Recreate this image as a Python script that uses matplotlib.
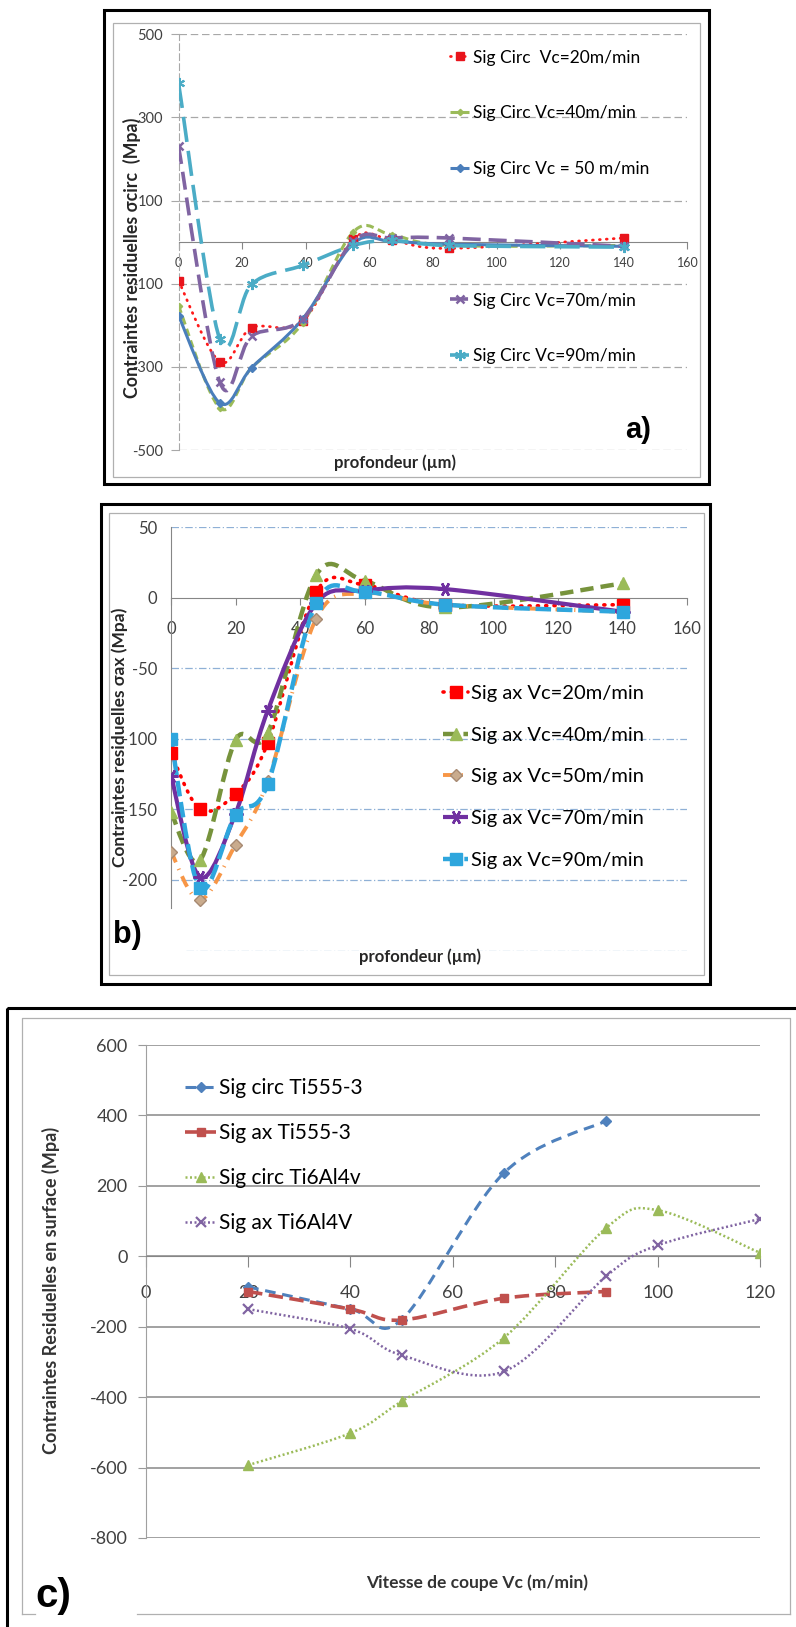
import numpy as np
import matplotlib
matplotlib.use('Agg')
import matplotlib.pyplot as plt
from matplotlib.path import Path
from matplotlib.patches import PathPatch, Rectangle
from matplotlib.lines import Line2D

plt.rcParams['font.family'] = ['Lato', 'DejaVu Sans']
plt.rcParams['axes.unicode_minus'] = False

W, H = 796, 1627
DPI = 100

# a) circumferential residual stress vs depth
depth_a = [0, 13, 23, 39, 55, 67, 85, 140]
circ_vc20 = [-93, -288, -206, -190, 8, 5, -15, 10]
circ_vc40 = [-153, -399, -302, -195, 25, 18, -8, -8]
circ_vc50 = [-177, -387, -302, -185, -3, 2, -5, -10]
circ_vc70 = [231, -337, -226, -185, 3, 10, 10, -10]
circ_vc90 = [383, -234, -101, -56, -8, 4, -8, -12]
labels_a = ['Sig Circ  Vc=20m/min', 'Sig Circ Vc=40m/min', 'Sig Circ Vc = 50 m/min',
            'Sig Circ Vc=70m/min', 'Sig Circ Vc=90m/min']
yticks_a = [500, 300, 100, -100, -300, -500]
xticks_ab = [0, 20, 40, 60, 80, 100, 120, 140, 160]

# b) axial residual stress vs depth
depth_b = [0, 9, 20, 30, 45, 60, 85, 140]
ax_vc20 = [-110, -150, -139, -103, 4, 9, -5, -5]
ax_vc40 = [-152, -186, -101, -96, 16, 12, -7, 10]
ax_vc50 = [-180, -214, -175, -130, -15, 3, -5, -10]
ax_vc70 = [-126, -198, -153, -80, -4, 5, 6, -10]
ax_vc90 = [-100, -206, -154, -132, -4, 4, -5, -10]
labels_b = ['Sig ax Vc=20m/min', 'Sig ax Vc=40m/min', 'Sig ax Vc=50m/min',
            'Sig ax Vc=70m/min', 'Sig ax Vc=90m/min']
yticks_b = [50, 0, -50, -100, -150, -200]
grid_b = [50, -50, -100, -150, -200]

# c) surface residual stress vs cutting speed
vc_ti555 = [20, 40, 50, 70, 90]
circ_ti555 = [-87, -150, -180, 237, 385]
axial_ti555 = [-100, -150, -181, -119, -100]
vc_ti64 = [20, 40, 50, 70, 90, 100, 120]
circ_ti64 = [-593, -502, -412, -231, 81, 131, 10]
axial_ti64 = [-150, -206, -281, -327, -56, 31, 106]
labels_c = ['Sig circ Ti555-3', 'Sig ax Ti555-3', 'Sig circ Ti6Al4v', 'Sig ax Ti6Al4V']
yticks_c = [600, 400, 200, 0, -200, -400, -600, -800]
xticks_c = [0, 20, 40, 60, 80, 100, 120]

NARROW = ['Liberation Sans Narrow', 'Lato', 'DejaVu Sans']


def smooth_path(x, y):
    # excel-like smoothed line: catmull-rom segments as cubic beziers
    pts = np.column_stack([x, y]).astype(float)
    n = len(pts)
    verts = [pts[0]]
    codes = [Path.MOVETO]
    for i in range(n - 1):
        p0 = pts[max(i - 1, 0)]
        p1 = pts[i]
        p2 = pts[i + 1]
        p3 = pts[min(i + 2, n - 1)]
        verts += [p1 + (p2 - p0) / 6, p2 - (p3 - p1) / 6, p2]
        codes += [Path.CURVE4] * 3
    return Path(verts, codes)


def draw_series(ax, x, y, color, lw, ls, marker, ms, mfc=None, mec=None, mew=1.0,
                cap='butt', z=3):
    mfc = mfc or color
    mec = mec or color
    pp = PathPatch(smooth_path(x, y), fill=False, edgecolor=color, lw=lw,
                   linestyle=ls, zorder=z)
    pp.set_capstyle(cap)
    ax.add_patch(pp)
    ax.plot(x, y, linestyle='none', marker=marker, ms=ms, mfc=mfc, mec=mec,
            mew=mew, zorder=z + 0.1)
    return Line2D([], [], color=color, lw=lw, linestyle=ls, marker=marker, ms=ms,
                  mfc=mfc, mec=mec, mew=mew, solid_capstyle=cap, dash_capstyle=cap)


fig = plt.figure(figsize=(W / DPI, H / DPI), dpi=DPI)

# background layer in pixel coordinates for the frames and panel letters
bg = fig.add_axes([0, 0, 1, 1], zorder=0)
bg.set_xlim(0, W)
bg.set_ylim(H, 0)
bg.axis('off')


def px_axes(x0, x1, y0, y1):
    a = fig.add_axes([x0 / W, 1 - y1 / H, (x1 - x0) / W, (y1 - y0) / H], zorder=2)
    a.patch.set_alpha(0)
    return a


def frame(x0, y0, x1, y1, ix0, iy0, ix1, iy1):
    bg.add_patch(Rectangle((x0, y0), x1 - x0, y1 - y0, fill=False, ec='black', lw=2.2))
    bg.add_patch(Rectangle((ix0, iy0), ix1 - ix0, iy1 - iy0, fill=False, ec='#b0b0b0', lw=0.9))


frame(104, 10, 709, 484, 113, 23, 700, 477)
frame(101, 504, 710, 984, 109, 513, 704, 975)
bg.add_patch(Rectangle((7, 1008), 820, 660, fill=False, ec='black', lw=2.2))
bg.plot([22, 22, 790, 790], [1614, 1018, 1018, 1614], color='#b0b0b0', lw=0.9)
bg.plot([22, 35], [1614, 1614], color='#b0b0b0', lw=0.9)
bg.plot([137, 790], [1614, 1614], color='#b0b0b0', lw=0.9)

AXIS_GRAY = '#868686'
TICK_TXT = '#404040'

# ---------------- panel a ----------------
ax1 = px_axes(178.5, 687.4, 34.3, 450)
ax1.set_xlim(0, 160)
ax1.set_ylim(-500, 500)
h_a = [
    draw_series(ax1, depth_a, circ_vc20, '#ff1a1a', 2.0, (0, (0.3, 2.2)), 's', 5.5,
                mfc='#e8141c', mec='#e8141c', cap='round'),
    draw_series(ax1, depth_a, circ_vc40, '#9bbb59', 2.2, (0, (2.5, 1.5)), 'D', 3.2),
    draw_series(ax1, depth_a, circ_vc50, '#4a7ebb', 2.2, '-', 'D', 4.2),
    draw_series(ax1, depth_a, circ_vc70, '#8064a2', 2.6, (0, (5, 2.2)), 'x', 6, mew=1.8),
    draw_series(ax1, depth_a, circ_vc90, '#4bacc6', 2.6, (0, (7, 2.5)), (6, 2, 0), 8, mew=1.5),
]
for s in ['top', 'right']:
    ax1.spines[s].set_visible(False)
ax1.spines['bottom'].set_position(('data', 0))
ax1.spines['bottom'].set_color(AXIS_GRAY)
ax1.spines['left'].set_color('#a8a8a8')
ax1.spines['left'].set_linestyle((0, (6, 3)))
ax1.set_xticks(xticks_ab)
ax1.set_yticks(yticks_a)
ax1.tick_params(axis='x', direction='out', length=5, color=AXIS_GRAY, labelsize=9,
                labelcolor=TICK_TXT, pad=6)
ax1.tick_params(axis='y', direction='out', length=6, color='#a8a8a8', labelsize=10.5,
                labelcolor=TICK_TXT, pad=5)
ax1.grid(axis='y', color='#a8a8a8', lw=0.9, linestyle=(0, (6, 3)))
ax1.set_axisbelow(True)

fs_a = 12.5
leg_kw = dict(frameon=False, borderpad=0, borderaxespad=0, handlelength=1.1,
              handletextpad=0.25, bbox_transform=bg.transData, loc='upper left')
fig.legend(h_a[:3], labels_a[:3], bbox_to_anchor=(450, 49.5), fontsize=fs_a,
           labelspacing=2.28, **leg_kw)
fig.legend(h_a[3:], labels_a[3:], bbox_to_anchor=(450, 292.5), fontsize=fs_a,
           labelspacing=2.28, **leg_kw)

bg.text(132, 258, 'Contraintes residuelles σcirc  (Mpa)', rotation=90, ha='center',
        va='center', fontsize=12.8, fontweight='bold', color='#262626')
bg.text(395, 463, 'profondeur (µm)', ha='center', va='center', fontsize=12,
        fontweight='bold', color='#262626')
bg.text(638, 430, 'a)', ha='center', va='center', fontsize=21, fontweight='bold',
        family=['Liberation Sans', 'DejaVu Sans'])

# ---------------- panel b ----------------
ax2 = px_axes(171, 687, 527, 950.6)
ax2.set_xlim(0, 160)
ax2.set_ylim(-250, 50)
h_b = [
    draw_series(ax2, depth_b, ax_vc20, '#ff0000', 2.6, (0, (0.3, 2.0)), 's', 8,
                cap='round'),
    draw_series(ax2, depth_b, ax_vc40, '#77933c', 3.2, (0, (3, 1.6)), '^', 9,
                mfc='#9bbb59', mec='#9bbb59'),
    draw_series(ax2, depth_b, ax_vc50, '#f79646', 2.8, (0, (3, 1.8, 0.3, 1.8)), 'D', 6,
                mfc='#c9ab8d', mec='#a78a72'),
    draw_series(ax2, depth_b, ax_vc70, '#7030a0', 3.0, '-', (6, 2, 90), 10, mew=1.8),
    draw_series(ax2, depth_b, ax_vc90, '#2ea6dd', 3.2, (0, (3.5, 1.3)), 's', 8),
]
for s in ['top', 'right']:
    ax2.spines[s].set_visible(False)
ax2.spines['bottom'].set_position(('data', 0))
ax2.spines['bottom'].set_color(AXIS_GRAY)
ax2.spines['left'].set_color(AXIS_GRAY)
ax2.spines['left'].set_bounds(-220, 50)
ax2.set_xticks(xticks_ab)
ax2.set_yticks(yticks_b)
ax2.tick_params(axis='x', direction='out', length=5, color=AXIS_GRAY, labelsize=12,
                labelcolor=TICK_TXT, pad=12)
ax2.tick_params(axis='y', length=0, labelsize=12, labelcolor=TICK_TXT, pad=10)
for g in grid_b:
    ax2.axhline(g, color='#8fb0d6', lw=0.9, linestyle=(0, (6, 2, 1, 2)), zorder=1)
ax2.hlines(-250, 4.5, 160, color='#8fb0d6', lw=0.9, linestyle=(0, (6, 2, 1, 2)), zorder=1)

fs_b = 14.5
fig.legend(h_b, labels_b, bbox_to_anchor=(443, 685), fontsize=fs_b, labelspacing=1.22,
           **dict(leg_kw, handlelength=1.25, handletextpad=0.12))

bg.text(120, 737, 'Contraintes residuelles σax (Mpa)', rotation=90, ha='center',
        va='center', fontsize=12.5, fontweight='bold', color='#262626')
bg.text(420, 957, 'profondeur (µm)', ha='center', va='center', fontsize=12,
        fontweight='bold', color='#262626')
bg.text(127, 935, 'b)', ha='center', va='center', fontsize=22, fontweight='bold',
        family=['Liberation Sans', 'DejaVu Sans'])

# ---------------- panel c ----------------
ax3 = px_axes(145.7, 760, 1045, 1538)
ax3.set_xlim(0, 120)
ax3.set_ylim(-800, 600)
h_c = [
    draw_series(ax3, vc_ti555, circ_ti555, '#4f81bd', 2.2, (0, (3.5, 2.2)), 'D', 5),
    draw_series(ax3, vc_ti555, axial_ti555, '#c0504d', 2.6, (0, (4, 1.8)), 's', 6),
    draw_series(ax3, vc_ti64, circ_ti64, '#9bbb59', 1.8, (0, (0.8, 1.0)), '^', 7),
    draw_series(ax3, vc_ti64, axial_ti64, '#8064a2', 1.8, (0, (0.8, 1.0)), 'x', 6.5, mew=1.6),
]
for s in ['top', 'right']:
    ax3.spines[s].set_visible(False)
ax3.spines['bottom'].set_position(('data', 0))
ax3.spines['bottom'].set_color(AXIS_GRAY)
ax3.spines['left'].set_color('#a0a0a0')
ax3.set_xticks(xticks_c)
ax3.set_yticks(yticks_c)
ax3.tick_params(axis='x', direction='out', length=8, color=AXIS_GRAY, labelsize=13,
                labelcolor=TICK_TXT, pad=13)
ax3.tick_params(axis='y', direction='out', length=6, color='#9a9a9a', labelsize=13,
                labelcolor=TICK_TXT, pad=7)
ax3.grid(axis='y', color='#9a9a9a', lw=1.3)
ax3.set_axisbelow(True)

fig.legend(h_c, labels_c, bbox_to_anchor=(185, 1078), labelspacing=1.2,
           prop={'family': NARROW, 'size': 15},
           **dict(leg_kw, handlelength=1.5, handletextpad=0.15))

bg.text(51, 1290, 'Contraintes Residuelles en surface (Mpa)', rotation=90, ha='center',
        va='center', fontsize=13, fontweight='bold', color='#333333')
bg.text(477, 1583, 'Vitesse de coupe Vc (m/min)', ha='center', va='center', fontsize=12.5,
        fontweight='bold', color='#333333')
bg.text(53, 1596, 'c)', ha='center', va='center', fontsize=29, fontweight='bold',
        family=['Liberation Sans', 'DejaVu Sans'])

fig.savefig('out.png', dpi=DPI)
